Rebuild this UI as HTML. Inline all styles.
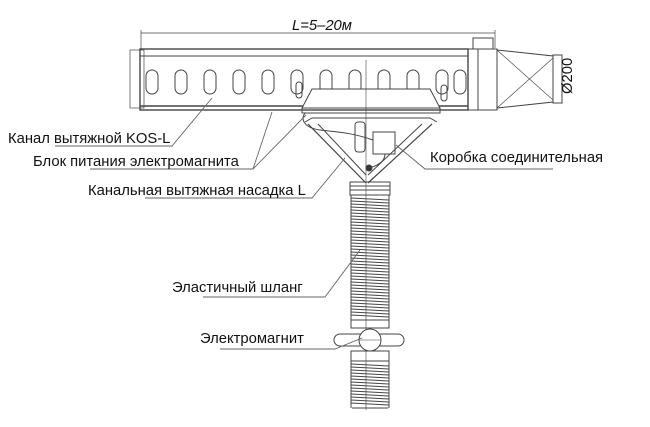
<!DOCTYPE html>
<html><head><meta charset="utf-8"><style>
html,body{margin:0;padding:0;background:#fff;}
svg{display:block}
text{font-family:"Liberation Sans",sans-serif;font-size:14.8px;fill:#111}
</style></head><body>
<svg width="650" height="427" viewBox="0 0 650 427" xmlns="http://www.w3.org/2000/svg">
<g stroke="#444" fill="none" stroke-width="1">
<line x1="141" y1="33" x2="495" y2="33" stroke-width="0.7"/>
<line x1="141" y1="30" x2="141" y2="50" stroke-width="0.7"/>
<line x1="495" y1="30" x2="495" y2="48" stroke-width="0.7"/>
<rect x="130" y="50" width="14" height="58" stroke-width="0.7"/>
<rect x="140" y="49" width="328" height="61" stroke-width="1.4"/>
<line x1="140" y1="56" x2="468" y2="56"/>
<line x1="140" y1="106" x2="468" y2="106" stroke-width="1.5"/>
<rect x="468" y="49" width="29" height="61"/>
<line x1="478" y1="49" x2="478" y2="110"/>
<rect x="473" y="38" width="20" height="11"/>
<polyline points="497,50 553,56 553,102 497,108"/>
<line x1="497" y1="50" x2="553" y2="100" stroke-width="0.6"/>
<line x1="497" y1="108" x2="553" y2="58" stroke-width="0.6"/>
<rect x="553" y="55" width="9" height="48"/>
<g stroke-width="1">
<rect x="146" y="70" width="12" height="24" rx="6"/>
<rect x="175" y="70" width="12" height="24" rx="6"/>
<rect x="204" y="70" width="12" height="24" rx="6"/>
<rect x="233" y="70" width="12" height="24" rx="6"/>
<rect x="262" y="70" width="12" height="24" rx="6"/>
<rect x="291" y="70" width="12" height="24" rx="6"/>
<rect x="320" y="70" width="12" height="24" rx="6"/>
<rect x="349" y="70" width="12" height="24" rx="6"/>
<rect x="378" y="70" width="12" height="24" rx="6"/>
<rect x="407" y="70" width="12" height="24" rx="6"/>
<rect x="436" y="70" width="12" height="24" rx="6"/>
<rect x="454" y="70" width="12" height="24" rx="6"/>
</g>
<polygon points="312,89 430,89 440,108 302,108" fill="#fff"/>
<rect x="302" y="108" width="138" height="5"/>
<line x1="366" y1="60" x2="366" y2="410" stroke-width="0.6"/>
<rect x="296" y="82" width="6" height="16" rx="3"/>
<rect x="441" y="85" width="6" height="16" rx="3"/>
<polyline points="305,122 312,118 430,118 437,122"/>
<line x1="308" y1="124" x2="366" y2="183" stroke-width="1.2"/>
<line x1="318" y1="124" x2="366" y2="175"/>
<line x1="432" y1="124" x2="368" y2="183" stroke-width="1.2"/>
<line x1="422" y1="124" x2="368" y2="175"/>
<rect x="355" y="122" width="10" height="30" rx="3"/>
<rect x="373" y="132" width="22" height="22"/>
<circle cx="369" cy="168" r="3" fill="#333"/>
<path d="M369,168 C380,165 385,160 385,154"/>
<path d="M305,113 C300,120 305,128 320,130 C335,132 350,132 373,140"/>
<rect x="350" y="182" width="40" height="13"/>
<line x1="350" y1="186" x2="390" y2="186"/>
<line x1="350" y1="190" x2="390" y2="190"/>
<line x1="351" y1="195" x2="351" y2="327"/>
<line x1="389" y1="195" x2="389" y2="327"/>
<rect x="351" y="320" width="38" height="8"/>
<rect x="351" y="351" width="38" height="10"/>
<line x1="351" y1="361" x2="351" y2="408"/>
<line x1="389" y1="361" x2="389" y2="408"/>
<line x1="352" y1="408" x2="388" y2="408"/>
<path d="M340,334 L398,334 A6,6 0 0 1 398,346 L340,346 A6,6 0 0 1 340,334 Z" fill="#fff"/>
<circle cx="370" cy="340" r="11" fill="#fff"/>
<line x1="359" y1="340" x2="381" y2="340" stroke-width="0.6"/>
</g>
<g stroke="#444" stroke-width="1">
<path d="M351,198 L389,200 M351,201 L389,203 M351,204 L389,206 M351,207 L389,209 M351,210 L389,212 M351,213 L389,215 M351,216 L389,218 M351,219 L389,221 M351,222 L389,224 M351,225 L389,227 M351,228 L389,230 M351,231 L389,233 M351,234 L389,236 M351,237 L389,239 M351,240 L389,242 M351,243 L389,245 M351,246 L389,248 M351,249 L389,251 M351,252 L389,254 M351,255 L389,257 M351,258 L389,260 M351,261 L389,263 M351,264 L389,266 M351,267 L389,269 M351,270 L389,272 M351,273 L389,275 M351,276 L389,278 M351,279 L389,281 M351,282 L389,284 M351,285 L389,287 M351,288 L389,290 M351,291 L389,293 M351,294 L389,296 M351,297 L389,299 M351,300 L389,302 M351,303 L389,305 M351,306 L389,308 M351,309 L389,311 M351,312 L389,314 M351,315 L389,317"/>
<path d="M351,364 L389,366 M351,367 L389,369 M351,370 L389,372 M351,373 L389,375 M351,376 L389,378 M351,379 L389,381 M351,382 L389,384 M351,385 L389,387 M351,388 L389,390 M351,391 L389,393 M351,394 L389,396 M351,397 L389,399 M351,400 L389,402 M351,403 L389,405"/>
</g>
<g stroke="#666" fill="none" stroke-width="0.9">
<polyline points="55,146 172,146 212,98"/>
<polyline points="90,169 253,169 272,112"/>
<polyline points="253,169 306,115"/>
<polyline points="145,198 312,198 345,158"/>
<polyline points="203,297 325,297 360,250"/>
<polyline points="220,349 335,349 362,338"/>
<polyline points="553,169 425,169 396,145"/>
</g>
<text x="292" y="30" font-size="10" font-style="italic">L=5–20м</text>
<text x="0" y="0" font-size="10" transform="translate(572,94) rotate(-90)">Ø200</text>
<text x="8" y="143">Канал вытяжной KOS-L</text>
<text x="33" y="166">Блок питания электромагнита</text>
<text x="88" y="195">Канальная вытяжная насадка L</text>
<text x="430" y="162">Коробка соединительная</text>
<text x="172" y="292">Эластичный шланг</text>
<text x="200" y="343">Электромагнит</text>
</svg>
</body></html>
